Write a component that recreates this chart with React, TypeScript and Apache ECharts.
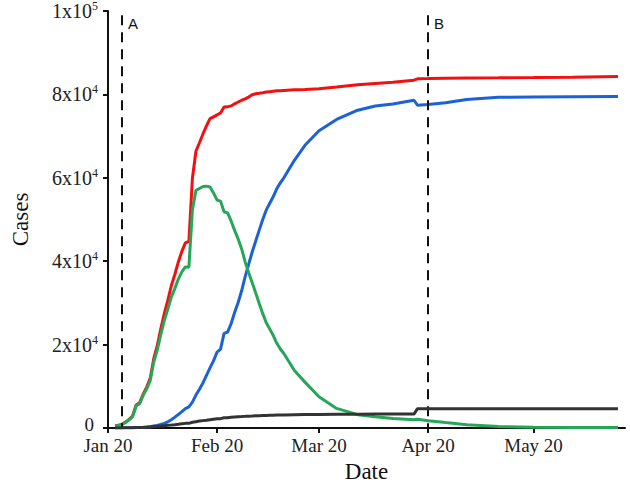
import React, { useEffect, useRef } from "react";
import * as echarts from "echarts";

const dates = [
  "01-22", "01-23", "01-24", "01-25", "01-26", "01-27", "01-28", "01-29", "01-30", "01-31",
  "02-01", "02-02", "02-03", "02-04", "02-05", "02-06", "02-07", "02-08", "02-09", "02-10",
  "02-11", "02-12", "02-13", "02-14", "02-15", "02-16", "02-17", "02-18", "02-19", "02-20",
  "02-21", "02-22", "02-23", "02-24", "02-25", "02-26", "02-27", "02-28", "02-29", "03-01",
  "03-02", "03-03", "03-04", "03-05", "03-06", "03-07", "03-08", "03-09", "03-10", "03-13",
  "03-16", "03-20", "03-25", "03-31", "04-05", "04-10", "04-16", "04-17", "04-20", "04-25",
  "05-01", "05-10", "05-20", "05-31", "06-13",
];

const confirmed = [
  550, 640, 920, 1400, 2080, 2880, 5500, 6090, 8140, 9800,
  11890, 16630, 19720, 23710, 27440, 30590, 34110, 36810, 39830, 42350,
  44390, 44760, 59900, 66360, 68410, 70510, 72430, 74210, 74620, 75080,
  75550, 77000, 77020, 77240, 77750, 78170, 78600, 78930, 79360, 79930,
  80150, 80270, 80410, 80560, 80660, 80760, 80850, 80900, 80950, 81100,
  81200, 81350, 81750, 82300, 82600, 82900, 83400, 83750, 83800, 83900,
  83960, 84000, 84060, 84130, 84300,
];

const recovered = [
  30, 30, 40, 40, 50, 60, 100, 120, 140, 210,
  280, 460, 610, 840, 1120, 1480, 2000, 2600, 3220, 3920,
  4640, 5080, 6200, 7900, 9300, 10800, 12600, 14400, 16100, 18200,
  18900, 22700, 23000, 25000, 27700, 30100, 32900, 36300, 39300, 42200,
  44850, 47450, 50000, 52300, 53900, 55500, 57400, 58800, 60000, 64200,
  67800, 71300, 74000, 76200, 77200, 77700, 78600, 77400, 77600, 78000,
  78800, 79300, 79400, 79450, 79500,
];

const active = [
  500, 600, 860, 1330, 1970, 2740, 5280, 5830, 7840, 9380,
  11360, 15810, 18680, 22370, 25760, 28480, 31400, 33420, 35710, 37430,
  38640, 38560, 52330, 56980, 57440, 57930, 58000, 57800, 56380, 54660,
  54410, 51860, 51580, 49650, 47390, 45350, 42950, 39840, 37220, 34860,
  32380, 29870, 27420, 25250, 23710, 22170, 20320, 18940, 17860, 13800,
  11000, 7500, 4700, 3200, 2700, 2300, 2000, 2100, 1750, 1300,
  800, 350, 150, 100, 120,
];

const deaths = [
  17, 18, 26, 42, 56, 82, 131, 133, 171, 213,
  259, 361, 425, 490, 562, 632, 717, 804, 904, 1011,
  1111, 1116, 1370, 1520, 1660, 1770, 1870, 2000, 2120, 2240,
  2240, 2440, 2440, 2590, 2660, 2720, 2750, 2790, 2840, 2870,
  2910, 2940, 2980, 3010, 3040, 3070, 3100, 3120, 3140, 3180,
  3220, 3250, 3280, 3310, 3330, 3340, 3340, 4630, 4630, 4632,
  4633, 4634, 4634, 4634, 4638,
];

const tickDates = ["01-20", "02-20", "03-20", "04-20", "05-20"];
const tickLabels = ["Jan 20", "Feb 20", "Mar 20", "Apr 20", "May 20"];
const eventDates = ["01-24", "04-20"];
const eventLabels = ["A", "B"];

const dayOf = (md: string) => {
  const [m, d] = md.split("-").map(Number);
  return Math.round((Date.UTC(2020, m - 1, d) - Date.UTC(2020, 0, 20)) / 86400000);
};

const pairs = (vals: number[]) => dates.map((d, i) => [dayOf(d), vals[i]]);

const SERIF = "'Liberation Serif', 'Times New Roman', serif";
const SANS = "'Liberation Sans', Arial, sans-serif";

export default function App() {
  const ref = useRef<HTMLDivElement>(null);
  useEffect(() => {
    if (!ref.current) return;
    const chart = echarts.init(ref.current, undefined, { renderer: "svg" });
    const tickVals = tickDates.map(dayOf);
    const mkLine = (name: string, color: string, vals: number[], z: number) => ({
      name,
      type: "line",
      data: pairs(vals),
      showSymbol: false,
      symbol: "none",
      z,
      lineStyle: { color, width: 3 },
    });
    chart.setOption({
      animation: false,
      grid: { left: 108, right: 5, top: 10.5, bottom: 61, containLabel: false },
      xAxis: {
        type: "value",
        min: 0,
        max: 147,
        name: "Date",
        nameLocation: "middle",
        nameGap: 28,
        nameTextStyle: { fontFamily: SERIF, fontSize: 23, color: "#111" },
        splitLine: { show: false },
        axisLine: { lineStyle: { color: "#111", width: 2 } },
        axisTick: { customValues: tickVals, length: 5, lineStyle: { color: "#111", width: 2 } },
        axisLabel: {
          customValues: tickVals,
          formatter: (v: number) => tickLabels[tickVals.indexOf(Math.round(v))] ?? "",
          fontFamily: SERIF,
          fontSize: 19,
          lineHeight: 19,
          color: "#222",
          margin: 8,
        },
      },
      yAxis: {
        type: "value",
        min: 0,
        max: 100000,
        interval: 20000,
        name: "Cases",
        nameLocation: "middle",
        nameGap: 76,
        nameTextStyle: { fontFamily: SERIF, fontSize: 23, color: "#111" },
        splitLine: { show: false },
        axisLine: { show: true, lineStyle: { color: "#111", width: 2 } },
        axisTick: { show: true, length: 5, lineStyle: { color: "#111", width: 2 } },
        axisLabel: {
          margin: 10,
          formatter: (v: number) => {
            if (v === 0) return "{z|0}";
            if (v === 100000) return "{a|1x10}{s|5}";
            return `{a|${v / 10000}x10}{s|4}`;
          },
          rich: {
            a: { fontFamily: SERIF, fontSize: 20, color: "#222" },
            z: { fontFamily: SERIF, fontSize: 19, color: "#222", padding: [0, 4, 7, 0] },
            s: { fontFamily: SERIF, fontSize: 12, color: "#222", padding: [0, 0, 10, 0] },
          },
        },
      },
      series: [
        mkLine("Confirmed", "#f21010", confirmed, 2),
        mkLine("Recovered", "#1c61d6", recovered, 3),
        mkLine("Active", "#26a659", active, 4),
        mkLine("Deaths", "#333333", deaths, 5),
        {
          name: "events",
          type: "line",
          data: [],
          markLine: {
            silent: true,
            symbol: "none",
            label: { show: false },
            lineStyle: { type: [10, 7], color: "#111", width: 2 },
            data: eventDates.map((d) => [
              { coord: [dayOf(d), 99000] },
              { coord: [dayOf(d), 0] },
            ]),
          },
        },
      ],
    });
    const texts = eventDates.map((d, i) => {
      const [px, py] = chart.convertToPixel({ gridIndex: 0 }, [dayOf(d), 99000]) as number[];
      return {
        type: "text",
        x: px + 6,
        y: py + 1,
        style: { text: eventLabels[i], fontFamily: SANS, fontSize: 15, fill: "#111" },
      };
    });
    chart.setOption({ graphic: texts });
    return () => chart.dispose();
  }, []);
  return <div ref={ref} style={{ width: 630, height: 489, position: "absolute", left: 0, top: 0 }} />;
}
